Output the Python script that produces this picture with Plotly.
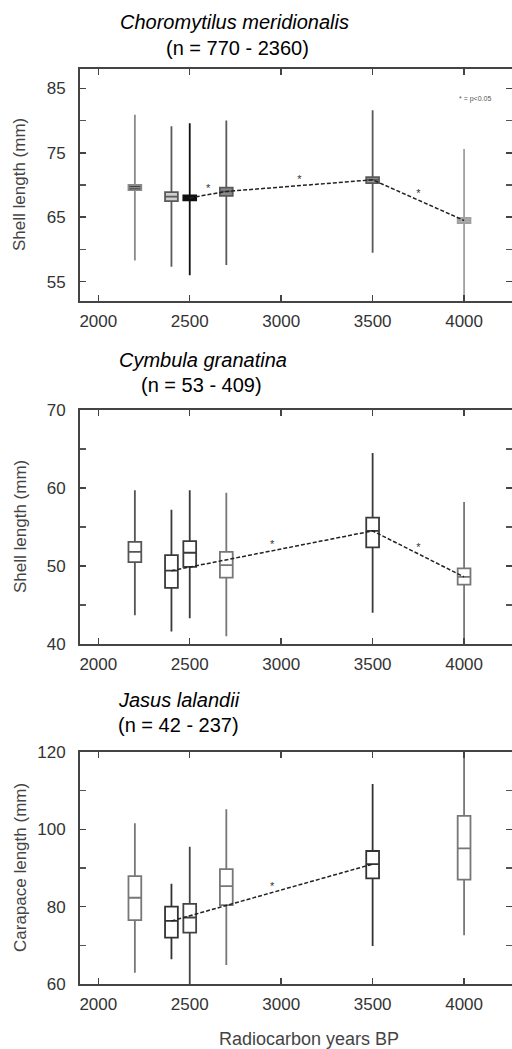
import plotly.graph_objects as go

W, H = 512, 1049

years = [2200, 2400, 2500, 2700, 3500, 4000]
x_ticks = [2000, 2500, 3000, 3500, 4000]

# Panel 1: Choromytilus meridionalis
c_low = [58.3, 57.3, 56.0, 57.6, 59.5, 51.0]
c_q1 = [69.2, 67.5, 67.6, 68.3, 70.3, 64.1]
c_med = [69.6, 68.2, 68.0, 69.0, 70.8, 64.5]
c_q3 = [70.0, 68.9, 68.4, 69.6, 71.2, 64.9]
c_high = [80.9, 79.1, 79.6, 80.0, 81.6, 75.6]
c_sig_years = [2500, 2700, 3500, 4000]
c_yticks = [55, 65, 75, 85]

# Panel 2: Cymbula granatina
g_low = [43.7, 41.6, 43.3, 41.0, 44.0, 39.0]
g_q1 = [50.5, 47.2, 49.9, 48.5, 52.4, 47.6]
g_med = [51.8, 49.4, 51.7, 50.1, 54.5, 48.6]
g_q3 = [53.1, 51.4, 53.2, 51.8, 56.2, 49.7]
g_high = [59.7, 57.2, 59.7, 59.4, 64.5, 58.2]
g_sig_years = [2400, 3500, 4000]
g_yticks = [40, 50, 60, 70]

# Panel 3: Jasus lalandii
j_low = [62.9, 66.4, 59.0, 64.9, 69.8, 72.6]
j_q1 = [76.5, 72.0, 73.3, 80.4, 87.3, 87.0]
j_med = [82.3, 76.3, 77.2, 85.3, 91.0, 95.1]
j_q3 = [87.9, 80.0, 80.7, 89.7, 94.4, 103.5]
j_high = [101.6, 85.9, 95.5, 105.2, 111.7, 121.0]
j_sig_years = [2400, 3500]
j_yticks = [60, 80, 100, 120]

panels = [
    dict(low=c_low, q1=c_q1, med=c_med, q3=c_q3, high=c_high, sig=c_sig_years,
         yticks=c_yticks, yrange=[52, 88], minor=5, top=69, bot=301,
         fills=['#2a2a2a', '#cfcfcf', '#111111', '#8a8a8a', '#9a9a9a', '#b5b5b5'],
         lines=['#8a8a8a', '#5a5a5a', '#111111', '#5a5a5a', '#5a5a5a', '#a0a0a0'],
         title1='<i>Choromytilus meridionalis</i>', title2='(n = 770 - 2360)',
         tx1=234, tx2=237, ty1=22, ty2=48,
         ylabel='Shell length (mm)'),
    dict(low=g_low, q1=g_q1, med=g_med, q3=g_q3, high=g_high, sig=g_sig_years,
         yticks=g_yticks, yrange=[40, 70], minor=5, top=410, bot=644,
         fills=['white'] * 6,
         lines=['#555555', '#3a3a3a', '#3a3a3a', '#777777', '#3a3a3a', '#777777'],
         title1='<i>Cymbula granatina</i>', title2='(n = 53 - 409)',
         tx1=203, tx2=201, ty1=360, ty2=385,
         ylabel='Shell length (mm)'),
    dict(low=j_low, q1=j_q1, med=j_med, q3=j_q3, high=j_high, sig=j_sig_years,
         yticks=j_yticks, yrange=[60, 120], minor=10, top=752, bot=984,
         fills=['white'] * 6,
         lines=['#777777', '#333333', '#444444', '#777777', '#333333', '#777777'],
         title1='<i>Jasus lalandii</i>', title2='(n = 42 - 237)',
         tx1=179, tx2=178, ty1=700, ty2=725,
         ylabel='Carapace length (mm)'),
]

fig = go.Figure()
annotations = []
FONT = 'Liberation Sans, Arial, sans-serif'

for i, p in enumerate(panels):
    n = '' if i == 0 else str(i + 1)
    xa, ya = 'x' + n, 'y' + n
    # significance line through medians
    sx = p['sig']
    sy = [p['med'][years.index(v)] for v in sx]
    fig.add_trace(go.Scatter(x=sx, y=sy, mode='lines', xaxis=xa, yaxis=ya,
                             line=dict(color='#222222', width=1.5, dash='4px,2px'),
                             hoverinfo='skip', showlegend=False))
    mx = [(sx[k] + sx[k + 1]) / 2 for k in range(len(sx) - 1)]
    my = [(sy[k] + sy[k + 1]) / 2 for k in range(len(sy) - 1)]
    fig.add_trace(go.Scatter(x=mx, y=my, mode='text', text=['*'] * len(mx),
                             textposition='top center', xaxis=xa, yaxis=ya,
                             textfont=dict(size=11, color='#333333', family=FONT),
                             hoverinfo='skip', showlegend=False))
    for k, yr in enumerate(years):
        fig.add_trace(go.Box(x=[yr], q1=[p['q1'][k]], median=[p['med'][k]],
                             q3=[p['q3'][k]], lowerfence=[p['low'][k]],
                             upperfence=[p['high'][k]], width=70,
                             fillcolor=p['fills'][k],
                             line=dict(color=p['lines'][k], width=1.8),
                             whiskerwidth=0, boxpoints=False,
                             xaxis=xa, yaxis=ya, showlegend=False, hoverinfo='skip'))
    ydom = [1 - p['bot'] / H, 1 - p['top'] / H]
    axis_common = dict(showline=True, linecolor='#444444', linewidth=2,
                       mirror='ticks', ticks='inside', ticklen=6, tickwidth=1.5,
                       tickcolor='#444444', showgrid=False, zeroline=False,
                       automargin=False,
                       tickfont=dict(size=17, color='#333333', family=FONT))
    fig.layout['xaxis' + n] = dict(axis_common, domain=[80 / W, 1], range=[1900, 4262],
                                   tickvals=x_ticks, anchor=ya, ticklabelstandoff=4)
    fig.layout['yaxis' + n] = dict(axis_common, domain=ydom, range=p['yrange'],
                                   tickvals=p['yticks'], anchor=xa, ticklabelstandoff=9,
                                   minor=dict(ticks='inside', ticklen=6, tickwidth=1.5,
                                              tickcolor='#555555', dtick=p['minor'],
                                              tick0=p['yticks'][0], showgrid=False))
    annotations.append(dict(text=p['title1'], x=p['tx1'] / W, y=1 - p['ty1'] / H,
                            xref='paper', yref='paper', showarrow=False,
                            xanchor='center', yanchor='middle',
                            font=dict(size=20, color='black', family=FONT)))
    annotations.append(dict(text=p['title2'], x=p['tx2'] / W, y=1 - p['ty2'] / H,
                            xref='paper', yref='paper', showarrow=False,
                            xanchor='center', yanchor='middle',
                            font=dict(size=20, color='black', family=FONT)))
    annotations.append(dict(text=p['ylabel'], x=20 / W, y=1 - (p['top'] + p['bot']) / 2 / H,
                            xref='paper', yref='paper', showarrow=False, textangle=-90,
                            xanchor='center', yanchor='middle',
                            font=dict(size=17, color='#444444', family=FONT)))

annotations.append(dict(text='* = p<0.05', x=475 / W, y=1 - 99 / H, xref='paper',
                        yref='paper', showarrow=False, xanchor='center', yanchor='middle',
                        font=dict(size=7, color='#555555', family=FONT)))
annotations.append(dict(text='Radiocarbon years BP', x=309 / W, y=1 - 1039 / H,
                        xref='paper', yref='paper', showarrow=False,
                        xanchor='center', yanchor='middle',
                        font=dict(size=18, color='#444444', family=FONT)))

fig.update_layout(template='none', width=W, height=H,
                  margin=dict(l=0, r=0, t=0, b=0, pad=0, autoexpand=False),
                  plot_bgcolor='white', paper_bgcolor='white',
                  boxmode='overlay', showlegend=False, annotations=annotations)

fig.write_html('out.html', config={'displayModeBar': False, 'staticPlot': True},
               post_script="document.body.style.margin='0';"
                           "document.body.style.overflow='hidden';"
                           "document.documentElement.style.overflow='hidden';")
